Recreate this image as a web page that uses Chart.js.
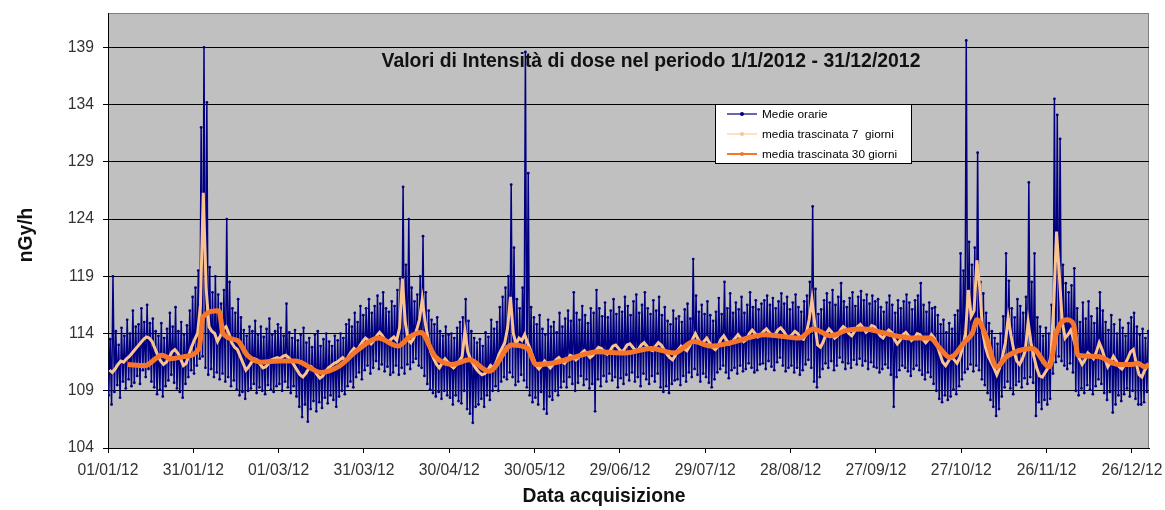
<!DOCTYPE html>
<html>
<head>
<meta charset="utf-8">
<script src="https://cdn.jsdelivr.net/npm/chart.js@4.4.0/dist/chart.umd.min.js"></script>
<style>
  html, body { margin: 0; padding: 0; background: #fff; }
  canvas { display: block; }
</style>
</head>
<body>
<canvas id="grafico" width="1165" height="510"></canvas>
<script>
// etichette asse x (ogni 30 giorni) e asse y
const tickDays = [0, 30, 60, 90, 120, 150, 180, 210, 240, 270, 300, 330, 360];
const dayLabels = ['01/01/12', '31/01/12', '01/03/12', '31/03/12', '30/04/12', '30/05/12', '29/06/12',
    '29/07/12', '28/08/12', '27/09/12', '27/10/12', '26/11/12', '26/12/12'];
const yTicks = [104, 109, 114, 119, 124, 129, 134, 139];

// medie orarie: minimo e massimo letti per ogni giorno (giorno 0 = 01/01/12)
const hourlyLow = [
    108.6, 107.8, 108.9, 109.5, 108.4, 109.8, 109.2, 110.0, 109.4, 109.7,
    110.3, 109.6, 110.8, 110.2, 110.9, 109.8, 109.3, 108.7, 109.1, 108.5,
    109.4, 109.9, 110.4, 109.7, 109.2, 108.9, 108.4, 109.6, 110.2, 110.8,
    110.5, 111.2, 111.8, 112.0, 111.0, 110.4, 110.9, 110.2, 110.6, 110.0,
    110.5, 109.8, 110.2, 109.4, 109.9, 109.1, 108.6, 108.9, 108.3, 109.0,
    109.2, 109.6, 108.8, 109.3, 109.0, 108.7, 109.5, 109.1, 108.9, 109.4,
    109.6, 109.0, 109.8, 109.3, 108.8, 109.4, 108.5, 107.6, 106.7, 107.8,
    106.3, 107.4, 108.1, 107.2, 108.0, 107.5, 108.4, 107.9, 108.6, 108.2,
    107.6, 108.5, 109.0, 108.7, 109.4, 109.8, 109.3, 110.2, 110.6, 110.0,
    110.8, 111.2, 110.5, 111.0, 111.6, 110.9, 111.3, 110.7, 111.1, 110.4,
    110.6, 111.2, 110.4, 111.0, 110.5, 111.3, 110.9, 111.5, 111.8, 111.2,
    111.0, 110.3, 109.6, 109.1, 108.8, 108.5, 108.9, 108.3, 109.0, 108.6,
    108.4, 107.8, 108.6, 108.1, 107.9, 109.0, 107.4, 107.0, 106.2, 107.6,
    107.8, 108.3, 107.6, 108.6, 108.2, 109.0, 109.4, 109.0, 109.8, 110.2,
    110.0, 110.6, 110.2, 109.5, 109.8, 110.4, 109.9, 109.3, 108.6, 108.0,
    108.4, 107.8, 108.9, 107.4, 107.0, 108.5, 108.2, 109.0, 108.6, 109.3,
    109.8, 109.3, 110.2, 109.6, 109.0, 109.7, 110.3, 109.5, 110.0, 109.2,
    109.6, 107.2, 110.0, 109.4, 110.3, 109.8, 110.5, 109.9, 110.2, 109.3,
    110.1, 109.6, 110.4, 109.9, 110.6, 109.8, 110.2, 109.4, 110.5, 110.0,
    109.6, 110.3, 109.8, 110.5, 109.3, 108.9, 109.4, 108.8, 109.6, 109.9,
    110.0, 109.5, 110.3, 109.8, 110.6, 110.2, 110.9, 110.4, 109.8, 110.5,
    110.2, 109.7, 109.3, 110.0, 110.6, 110.9, 111.2, 110.6, 110.1, 110.8,
    111.0, 110.5, 111.2, 110.7, 110.9, 111.4, 111.0, 110.6, 110.8, 111.3,
    111.4, 110.9, 111.6, 111.1, 110.8, 111.5, 111.9, 111.2, 110.7, 111.0,
    111.2, 110.6, 111.0, 110.4, 110.8, 111.3, 111.7, 111.0, 109.8, 109.3,
    110.2, 110.9, 111.4, 111.0, 111.6, 110.8, 111.2, 111.9, 111.5, 110.9,
    111.4, 111.0, 111.7, 111.3, 111.8, 111.2, 111.6, 110.9, 111.5, 111.1,
    111.0, 110.6, 110.9, 111.3, 111.0, 110.4, 107.6, 110.2, 110.8, 111.2,
    111.0, 110.7, 110.3, 110.9, 111.2, 110.8, 110.4, 110.0, 110.6, 110.2,
    109.6, 109.0, 108.3, 108.0, 108.6, 108.2, 108.5, 109.1, 108.7, 109.4,
    110.0, 110.6, 110.9, 111.3, 110.7, 111.2, 110.8, 110.0, 109.5, 108.8,
    108.2, 107.6, 106.8, 107.4, 108.5, 109.3, 109.8, 109.2, 108.7, 109.5,
    109.8, 109.3, 110.1, 109.6, 110.2, 109.7, 106.8, 108.0, 107.4, 108.2,
    107.8, 108.3, 110.5, 111.5, 112.0, 111.6, 111.2, 110.9, 111.4, 110.6,
    109.0, 108.6, 109.2, 108.8, 109.5, 109.1, 108.7, 109.4, 110.0, 109.6,
    108.8, 108.2, 108.9, 107.1, 107.8, 108.6, 108.1, 108.7, 109.2, 108.5,
    109.0, 108.3, 107.8, 107.8, 108.0, 108.9
];
const hourlyHigh = [
    113.5, 119.0, 114.2, 113.0, 114.5, 113.8, 115.2, 114.0, 116.0, 114.6,
    114.8, 116.2, 115.0, 116.5, 114.9, 115.3, 114.2, 113.8, 114.9, 113.6,
    114.4, 115.8, 114.6, 116.3, 114.2, 115.0, 113.9, 114.7, 116.0, 117.2,
    118.0, 119.5, 132.0, 139.0, 134.2, 119.8, 117.6, 119.0, 117.4, 116.6,
    117.8, 124.0, 118.5, 116.2, 115.8, 117.0, 115.4, 114.3, 113.8, 114.6,
    114.2, 115.1, 113.9, 114.6, 113.7, 114.4, 115.3, 113.9, 114.2, 114.8,
    114.5, 113.8, 116.6, 114.1, 113.6, 114.3, 113.4, 113.9, 114.5, 113.2,
    113.6, 112.8, 113.9, 114.2, 112.9, 113.5, 114.0, 113.3, 112.9, 113.8,
    113.4, 114.0, 113.6, 114.8, 115.2, 114.6, 115.8, 115.0, 116.4, 115.6,
    116.2, 117.0, 115.8, 116.4, 117.3, 116.6, 117.6, 116.2, 115.9, 116.8,
    116.4, 117.8, 118.8, 126.8, 120.0, 124.0, 118.0, 116.8, 117.4, 119.0,
    122.5, 117.6, 116.0, 115.2, 114.8, 115.4, 114.2, 113.8, 114.6, 113.9,
    114.0, 113.6, 114.5, 115.0, 115.4, 117.0, 115.1, 114.2, 113.6, 113.2,
    113.5, 112.9, 114.1, 113.7, 115.2, 114.4, 115.0, 116.3, 117.2, 118.0,
    119.0, 127.0, 121.5, 117.0, 116.2, 118.0, 138.6, 128.0, 116.3, 115.4,
    114.8, 115.6, 114.4, 113.9, 115.2, 114.6, 115.0, 114.1, 115.8, 114.6,
    115.3, 116.0, 115.1, 117.6, 115.8, 115.2, 116.4, 115.6, 114.9, 116.2,
    115.8, 117.8, 116.2, 115.5, 116.7, 115.4, 116.0, 117.0, 115.7, 116.3,
    115.9, 117.2, 116.4, 115.6, 116.8, 117.4, 115.8, 116.5, 117.6, 116.2,
    115.7, 116.9, 116.0, 117.2, 115.6, 116.3, 115.1, 114.8, 116.0, 115.3,
    115.5, 115.0, 116.1, 116.6, 115.3, 120.5, 117.3, 115.9, 116.5, 115.7,
    116.8, 115.6, 115.1, 115.9, 117.1, 115.7, 118.5, 116.2, 117.5, 115.8,
    116.7, 116.1, 117.2, 115.8, 116.5, 117.6, 116.3, 116.9, 116.1, 116.6,
    116.9, 117.3, 116.5, 117.1, 116.2, 116.8, 117.5, 116.6, 117.2, 116.1,
    116.7, 117.4, 116.3, 115.9, 116.8, 117.3, 118.5, 125.1, 117.9, 115.7,
    116.1, 116.9, 117.5, 116.7, 117.8, 116.5, 117.2, 118.4, 116.8, 116.3,
    117.1, 117.6, 116.4, 117.2, 117.7, 116.9, 117.4, 116.6, 117.3, 116.8,
    117.0, 116.3, 115.9, 116.7, 117.3, 116.5, 115.8, 116.9, 116.2, 116.8,
    117.4, 116.7, 116.1, 116.9, 117.3, 118.4, 116.5, 115.9, 116.7, 116.2,
    116.3, 115.6, 114.8, 115.2, 114.1, 114.9, 114.4, 115.6, 116.0, 121.0,
    119.5, 139.6, 122.0, 120.0, 121.5, 129.8, 118.5, 117.5, 115.8, 114.9,
    114.2, 113.6, 113.1, 114.0, 115.5, 121.0, 118.6, 116.2, 115.4, 117.0,
    116.4, 115.8, 117.2, 127.2, 118.5, 121.0, 115.4, 114.6, 113.8, 114.5,
    114.0, 116.5, 134.5, 133.1, 131.0, 120.0, 118.4, 117.6, 118.2, 119.7,
    116.2, 115.0, 116.7, 115.3, 116.8, 115.5, 114.9, 116.2, 117.6, 116.0,
    115.0, 114.3, 115.6, 114.8, 114.0, 115.2, 114.5, 113.8, 114.9, 115.4,
    115.8, 114.6, 113.9, 114.4, 113.6, 114.2
];

// media trascinata 7 giorni, un valore al giorno
const ma7 = [
    110.8, 110.6, 110.9, 111.3, 111.6, 111.5, 111.8, 112.0, 112.3, 112.6,
    112.9, 113.2, 113.5, 113.7, 113.6, 113.3, 112.7, 112.1, 111.6, 111.3,
    111.5, 111.9, 112.4, 112.6, 112.3, 111.8, 111.2, 111.4, 112.2, 112.9,
    113.5, 114.0, 116.5, 126.3, 118.0, 114.6, 114.2, 114.0, 113.3, 113.8,
    114.4, 114.6, 114.0, 113.2, 112.8, 112.6, 112.0, 111.4, 110.8, 111.1,
    111.5, 111.8, 111.7, 111.3, 111.0, 111.1, 111.4, 111.7, 111.8, 111.9,
    111.8, 112.0, 112.1, 111.9, 111.6, 111.2, 110.8, 110.4, 110.2, 110.5,
    110.9, 111.1, 110.8, 110.4, 110.1, 110.3, 110.7, 111.0, 111.2, 111.4,
    111.5, 111.7, 111.9, 111.6, 112.0, 112.4, 112.7, 112.5, 112.9, 113.3,
    113.6, 113.4, 113.1, 113.4, 113.8, 114.1, 113.8, 113.4, 113.2, 113.5,
    113.7, 113.4, 114.5, 118.8, 115.0, 113.5, 113.2, 113.6, 114.3, 115.2,
    117.0, 115.0, 113.6, 112.4, 111.8, 111.3, 111.0, 111.4, 111.8, 111.5,
    111.2, 111.0, 111.3, 111.6, 112.0, 114.2, 112.4, 111.7, 111.3, 110.9,
    110.6, 110.4, 110.5, 110.8, 111.2, 111.0, 111.5, 112.2, 112.7, 113.2,
    114.5, 117.2, 114.0, 113.1, 113.6, 113.4, 113.9, 113.2, 112.6, 111.9,
    111.2, 110.9, 111.2, 111.6, 111.3, 111.0, 111.3, 111.7, 111.9, 111.6,
    111.4, 111.7, 112.1, 112.0, 111.7, 111.9, 112.3, 112.5, 112.2, 111.9,
    112.1, 112.5, 112.8, 112.7, 112.4, 112.2, 112.5, 112.9, 113.0, 112.7,
    112.4, 112.6, 113.0, 113.1, 112.8, 112.5, 112.6, 113.0, 113.2, 112.9,
    112.6, 112.5, 112.9, 113.2, 113.0, 112.6, 112.2, 111.9, 111.7, 112.1,
    112.6, 112.9, 112.7, 112.5, 112.9, 113.5, 114.0, 113.5, 113.1, 113.3,
    113.6, 113.2, 112.8, 112.6, 112.9, 113.5, 113.8, 113.4, 113.1, 113.3,
    113.6, 113.9, 113.6, 113.3, 113.5, 114.0, 114.3, 114.0, 113.7, 113.9,
    114.2, 114.4, 114.1, 113.8, 113.9, 114.3, 114.5, 114.2, 113.8, 113.7,
    113.9, 114.2, 114.0, 113.6, 113.5, 114.0, 115.2, 117.0, 114.8, 113.0,
    112.8, 113.3, 114.0, 114.4, 114.1, 113.6, 113.8, 114.3, 114.6, 114.4,
    114.0, 113.8, 114.2, 114.6, 114.8, 114.5, 114.1, 114.3, 114.7, 114.6,
    114.2, 113.8, 113.6, 114.0, 114.3, 114.1, 113.5, 113.1, 113.4, 113.9,
    114.1, 113.8, 113.4, 113.6, 114.0, 113.9, 113.5, 113.2, 113.5, 113.9,
    113.6, 113.0, 112.2, 111.5, 111.2, 111.6, 112.0, 111.7, 111.4, 111.9,
    112.8, 114.0, 117.8, 115.5, 116.0, 120.4, 118.0, 114.2, 112.8, 112.0,
    111.5, 111.0, 110.4, 111.0, 112.0, 113.2, 115.4, 113.8, 112.5, 111.6,
    111.3, 111.8, 112.5, 115.0, 113.2, 112.0, 111.0, 110.3, 110.2, 110.6,
    111.0, 112.0, 116.5, 122.9, 119.0, 115.0, 113.6, 113.9, 114.3, 113.5,
    112.6, 111.8, 111.3, 111.7, 112.3, 112.1, 111.8, 112.4, 113.2, 112.6,
    111.8, 111.1, 111.5, 112.0, 111.6, 111.1, 110.9, 111.3, 111.8, 112.4,
    112.6, 111.4, 110.4, 110.2, 110.8, 111.2
];

// media trascinata 30 giorni
const ma30Days = [7, 13, 19, 22, 27, 32, 33.5, 39, 40.5, 45.5, 49, 54, 60, 66, 75, 81, 88, 95, 102, 106,
    110, 115, 121, 127, 134, 142, 147.5, 150.5, 156, 165, 172, 182, 191, 199, 206, 212, 219, 231, 243, 248,
    254, 260, 266, 272, 277, 283, 289, 292.5, 296, 301, 304, 305.5, 308.5, 312.5, 316, 325, 331, 333.5, 337, 339.5,
    341, 348, 355, 360, 362, 364.5, 366];
const ma30Values = [111.3, 111.2, 112.1, 111.8, 112.0, 112.7, 115.5, 116.0, 114.0, 113.4, 112.1, 111.5, 111.6, 111.6, 110.6, 111.1, 112.6, 113.6, 112.9, 113.7,
    114.1, 112.0, 111.3, 111.7, 110.7, 113.0, 112.7, 111.3, 111.4, 112.0, 112.4, 112.3, 112.7, 112.3, 113.3, 112.9, 113.2, 113.9, 113.6, 114.4,
    113.8, 114.3, 114.4, 114.1, 113.8, 113.6, 113.6, 112.7, 111.9, 113.2, 114.1, 115.2, 113.9, 111.1, 112.0, 112.7, 111.1, 114.1, 115.2, 114.8,
    112.1, 112.0, 111.3, 111.3, 111.4, 111.1, 111.3];

const seriesNames = ['Medie orarie', 'media trascinata 7  giorni', 'media trascinata 30 giorni'];
const seriesColors = ['#000080', '#F9C38F', '#F5762A'];
const titolo = 'Valori di Intensità di dose nel periodo 1/1/2012 - 31/12/2012';
const FONT = "'Liberation Sans', Arial, sans-serif";

const puntiOrari = [];
hourlyLow.forEach((v, d) => {
    puntiOrari.push({ x: d + 0.25, y: v });
    puntiOrari.push({ x: d + 0.75, y: hourlyHigh[d] });
});
const punti7 = ma7.map((v, d) => ({ x: d + 0.5, y: v }));
const punti30 = ma30Days.map((d, i) => ({ x: d, y: ma30Values[i] }));

const decorazioni = {
    id: 'decorazioni',
    beforeDraw(chart) {
        const { ctx, chartArea: a } = chart;
        ctx.save();
        ctx.fillStyle = '#fff';
        ctx.fillRect(0, 0, chart.width, chart.height);
        ctx.fillStyle = '#C0C0C0';
        ctx.fillRect(a.left, a.top, a.right - a.left, a.bottom - a.top);
        ctx.strokeStyle = '#808080';
        ctx.lineWidth = 1;
        ctx.strokeRect(a.left + 0.5, a.top + 0.5, a.right - a.left - 1, a.bottom - a.top);
        ctx.restore();
    },
    beforeDatasetsDraw(chart) {
        const { ctx, chartArea: a } = chart;
        ctx.save();
        ctx.fillStyle = '#111';
        ctx.font = 'bold 19.4px ' + FONT;
        ctx.textAlign = 'center';
        ctx.textBaseline = 'middle';
        ctx.fillText(titolo, a.left + 543, a.top + 49);
        ctx.restore();
    },
    afterDraw(chart) {
        const { ctx, chartArea: a } = chart;
        ctx.save();
        // titoli degli assi
        ctx.fillStyle = '#111';
        ctx.font = 'bold 19.3px ' + FONT;
        ctx.textAlign = 'center';
        ctx.textBaseline = 'middle';
        ctx.fillText('Data acquisizione', 604, 497);
        ctx.translate(27, 235);
        ctx.rotate(-Math.PI / 2);
        ctx.fillText('nGy/h', 0, 0);
        ctx.setTransform(1, 0, 0, 1, 0, 0);

        // legenda
        const lx = a.left + 607, ly = a.top + 91;
        ctx.fillStyle = '#fff';
        ctx.fillRect(lx, ly, 196, 59);
        ctx.strokeStyle = '#000';
        ctx.lineWidth = 1;
        ctx.strokeRect(lx + 0.5, ly + 0.5, 196, 59);
        ctx.font = '11.8px ' + FONT;
        ctx.textAlign = 'left';
        ctx.textBaseline = 'middle';
        const larghezze = [1.2, 1, 2];
        seriesNames.forEach((nome, i) => {
            const y = ly + 10 + i * 20;
            ctx.strokeStyle = seriesColors[i];
            ctx.lineWidth = larghezze[i];
            ctx.beginPath();
            ctx.moveTo(lx + 12, y);
            ctx.lineTo(lx + 42, y);
            ctx.stroke();
            ctx.fillStyle = seriesColors[i];
            ctx.beginPath();
            ctx.arc(lx + 27, y, 2, 0, Math.PI * 2);
            ctx.fill();
            ctx.fillStyle = '#000';
            ctx.fillText(nome, lx + 47, y + 1);
        });
        ctx.restore();
    }
};

new Chart(document.getElementById('grafico'), {
    type: 'line',
    data: {
        datasets: [
            {
                label: seriesNames[0], data: puntiOrari, order: 3,
                borderColor: seriesColors[0], borderWidth: 1.5,
                pointRadius: 1.4, pointBorderWidth: 0, pointBackgroundColor: seriesColors[0]
            },
            {
                label: seriesNames[1], data: punti7, order: 2,
                borderColor: seriesColors[1], borderWidth: 3,
                pointRadius: 0
            },
            {
                label: seriesNames[2], data: punti30, order: 1,
                borderColor: seriesColors[2], borderWidth: 5,
                pointRadius: 0, cubicInterpolationMode: 'monotone'
            }
        ]
    },
    options: {
        responsive: false,
        animation: false,
        events: [],
        layout: { padding: { left: 0, top: 13, right: 16, bottom: 0 } },
        plugins: { legend: { display: false }, tooltip: { enabled: false } },
        scales: {
            x: {
                type: 'linear', min: 0, max: 366,
                afterBuildTicks: s => { s.ticks = tickDays.map(v => ({ value: v })); },
                afterFit: s => {
                    s.height = 62;
                    s.paddingTop = 0; s.paddingBottom = 0; s.paddingLeft = 0; s.paddingRight = 0;
                },
                grid: { drawOnChartArea: false, drawTicks: true, tickLength: 5, color: '#000' },
                border: { color: '#000', width: 1 },
                ticks: {
                    autoSkip: false, maxRotation: 0, padding: 8, color: '#333',
                    font: { family: FONT, size: 15.7 },
                    callback: (v, i) => dayLabels[i]
                }
            },
            y: {
                min: 104, max: 142,
                afterBuildTicks: s => { s.ticks = yTicks.map(v => ({ value: v })); },
                afterFit: s => { s.width = 108; s.paddingTop = 0; s.paddingBottom = 0; },
                grid: { color: '#000', lineWidth: 1, drawTicks: true, tickLength: 5 },
                border: { color: '#000', width: 1 },
                ticks: {
                    padding: 9, color: '#333',
                    font: { family: FONT, size: 15.7 }
                }
            }
        }
    },
    plugins: [decorazioni]
});
</script>
</body>
</html>
